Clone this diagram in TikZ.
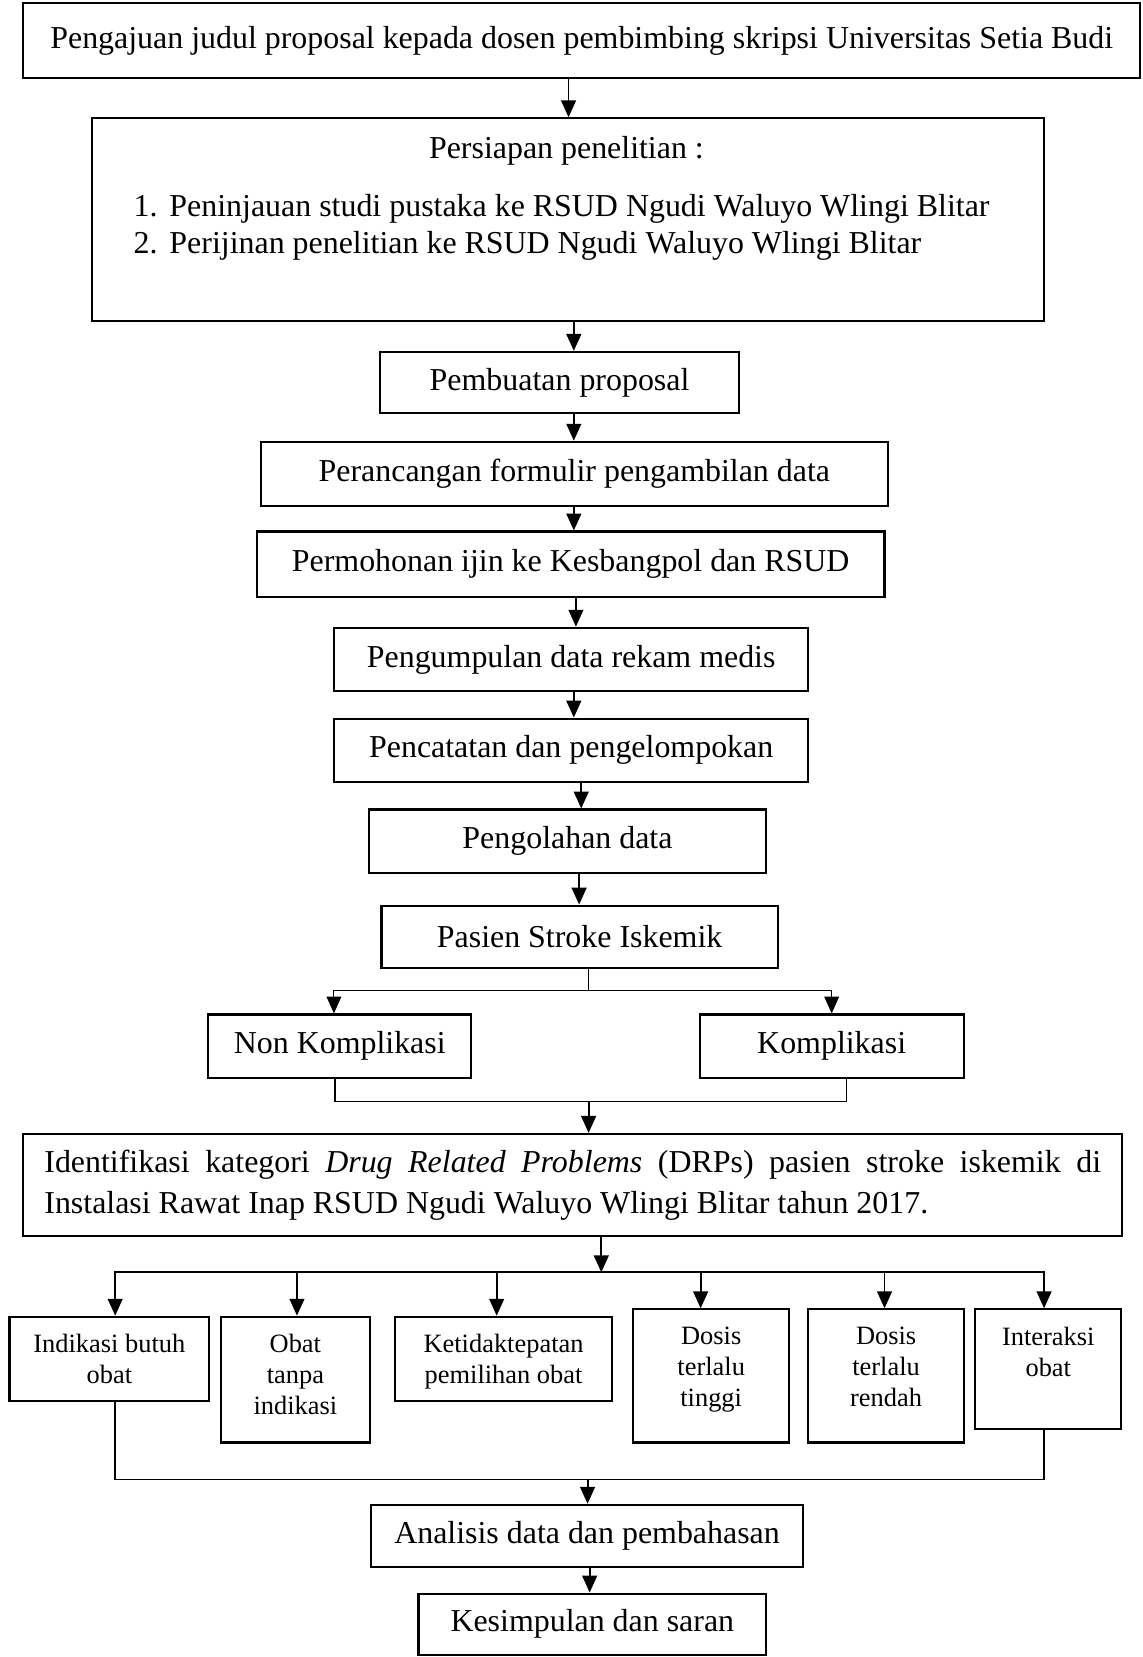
\documentclass[tikz,border=0pt]{standalone}
\usepackage{fontspec}
\setmainfont{Liberation Serif}
\usetikzlibrary{arrows.meta}
\newcommand\mainfs{\fontsize{15.1pt}{18pt}\selectfont}
\newcommand\smallfs{\fontsize{12.5pt}{14.75pt}\selectfont}
\begin{document}
\begin{tikzpicture}[x=0.5pt,y=-0.5pt,
  box/.style={draw, line width=1pt, inner sep=0pt, font=\mainfs, align=center},
  sbox/.style={draw, line width=1pt, inner sep=0pt},
  txt/.style={font=\mainfs, inner sep=0pt},
  stext/.style={font=\smallfs, align=center, inner sep=0pt, anchor=north},
  arr/.style={line width=0.9pt, -{Triangle[length=8pt,width=7pt]}},
  ln/.style={line width=0.9pt},
  thinln/.style={line width=0.5pt},
  thinarr/.style={line width=0.5pt, -{Triangle[length=8pt,width=7pt]}},
]
\useasboundingbox (0,0) rectangle (1081,1568);

\node[box, minimum width=528.5pt, minimum height=35.5pt] (top) at (550.5,38.5) {Pengajuan judul proposal kepada dosen pembimbing skripsi Universitas Setia Budi};

\node[sbox, minimum width=450.5pt, minimum height=96pt] (prep) at (537.5,208) {};
\node[txt] (prept) at (536,142.5) {Persiapan penelitian :};
\node[txt, anchor=west] (prep1) at (126,197.5) {\makebox[17pt][l]{1.}Peninjauan studi pustaka ke RSUD Ngudi Waluyo Wlingi Blitar};
\node[txt, anchor=west] (prep2) at (126,232.5) {\makebox[17pt][l]{2.}Perijinan penelitian ke RSUD Ngudi Waluyo Wlingi Blitar};

\node[box, minimum width=169.5pt, minimum height=29pt] (prop) at (529.5,362) {Pembuatan proposal};
\node[box, minimum width=296.5pt, minimum height=30.5pt] (form) at (543.5,448.5) {Perancangan formulir pengambilan data};
\node[box, minimum width=297pt, minimum height=31pt] (ijin) at (540,534) {Permohonan ijin ke Kesbangpol dan RSUD};
\node[box, minimum width=224.5pt, minimum height=30pt] (kump) at (540.5,624) {Pengumpulan data rekam medis};
\node[box, minimum width=224.5pt, minimum height=30pt] (catat) at (540.5,710) {Pencatatan dan pengelompokan};
\node[box, minimum width=188pt, minimum height=30pt] (olah) at (537,796) {Pengolahan data};
\node[box, minimum width=187.5pt, minimum height=29.5pt] (pasien) at (548.5,886.5) {Pasien Stroke Iskemik};
\node[box, minimum width=124.5pt, minimum height=30pt] (non) at (321.5,990) {Non Komplikasi};
\node[box, minimum width=125pt, minimum height=30pt] (komp) at (787,990) {Komplikasi};
\node[box, minimum width=520pt, minimum height=48.5pt] (iden) at (542,1121.5) {\parbox{500pt}{\fontsize{15.1pt}{19pt}\selectfont Identifikasi kategori \textit{Drug Related Problems} (DRPs) pasien stroke iskemik di\linebreak Instalasi Rawat Inap RSUD Ngudi Waluyo Wlingi Blitar tahun 2017.}};

\node[sbox, minimum width=94.5pt, minimum height=40pt] (b1) at (103.5,1286) {};
\node[sbox, minimum width=70.5pt, minimum height=59.5pt] (b2) at (279.5,1305.5) {};
\node[sbox, minimum width=102.5pt, minimum height=40pt] (b3) at (476.5,1286) {};
\node[sbox, minimum width=74pt, minimum height=63pt] (b4) at (673,1302) {};
\node[sbox, minimum width=73.5pt, minimum height=63pt] (b5) at (838.5,1302) {};
\node[sbox, minimum width=69pt, minimum height=56.5pt] (b6) at (992,1295.5) {};
\node[stext] (t1) at ([yshift=-8.5pt]b1.north) {Indikasi butuh\\obat};
\node[stext] (t2) at ([yshift=-8.5pt]b2.north) {Obat\\tanpa\\indikasi};
\node[stext] (t3) at ([yshift=-8.5pt]b3.north) {Ketidaktepatan\\pemilihan obat};
\node[stext] (t4) at ([yshift=-8.5pt]b4.north) {Dosis\\terlalu\\tinggi};
\node[stext] (t5) at ([yshift=-8.5pt]b5.north) {Dosis\\terlalu\\rendah};
\node[stext] (t6) at ([yshift=-8.5pt]b6.north) {Interaksi\\obat};

\node[box, minimum width=204.5pt, minimum height=29.5pt] (anal) at (555.5,1453.5) {Analisis data dan pembahasan};
\node[box, minimum width=164.5pt, minimum height=29pt] (kesim) at (560.5,1537) {Kesimpulan dan saran};

% connectors
\draw[arr] (top.south -| 538,0) -- (prep.north -| 538,0);
\draw[arr] (prep.south -| 543,0) -- (prop.north -| 543,0);
\draw[arr] (prop.south -| 543,0) -- (form.north -| 543,0);
\draw[arr] (form.south -| 543,0) -- (ijin.north -| 543,0);
\draw[arr] (ijin.south -| 545,0) -- (kump.north -| 545,0);
\draw[arr] (kump.south -| 543,0) -- (catat.north -| 543,0);
\draw[arr] (catat.south -| 550,0) -- (olah.north -| 550,0);
\draw[arr] (olah.south -| 548,0) -- (pasien.north -| 548,0);

\coordinate (sp) at (557,937);
\draw[thinln] (pasien.south -| sp) -- (sp);
\draw[thinarr] (sp) -| (non.north -| 316,0);
\draw[thinarr] (sp) -| (komp.north);

\coordinate (jn) at (557,1042);
\draw[thinln] (non.south -| 317,0) |- (jn) -| (komp.south -| 801,0);
\draw[arr] (jn) -- (iden.north -| jn);

\coordinate (hz) at (569,1204);
\draw[arr] (iden.south -| hz) -- (hz);
\draw[arr] (hz) -| (b1.north -| 109,0);
\draw[arr] (hz) -| (b6.north -| 988,0);
\draw[arr] (hz -| 281,0) -- (b2.north -| 281,0);
\draw[arr] (hz -| 470,0) -- (b3.north -| 470,0);
\draw[arr] (hz -| 663,0) -- (b4.north -| 663,0);
\draw[arr] (hz -| 837,0) -- (b5.north -| 837,0);

\coordinate (bj) at (556,1400);
\draw[ln] (b1.south -| 109,0) |- (bj) -| (b6.south -| 988,0);
\draw[arr] (bj) -- (anal.north -| bj);
\draw[arr] (anal.south -| 558,0) -- (kesim.north -| 558,0);
\end{tikzpicture}
\end{document}
